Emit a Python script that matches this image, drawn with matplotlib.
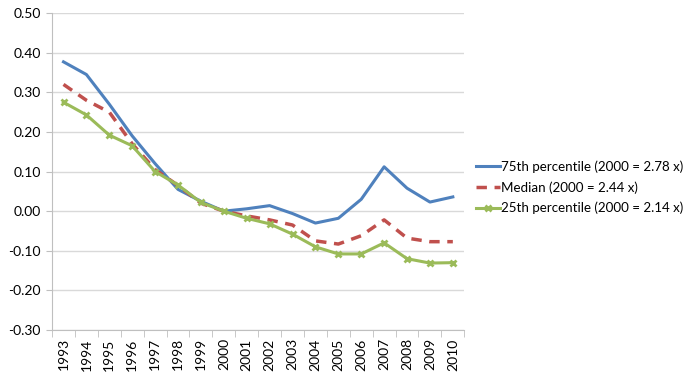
import matplotlib

matplotlib.use("Agg")
import matplotlib.pyplot as plt
import numpy as np

years = [str(y) for y in range(1993, 2011)]
p75 = [0.377, 0.345, 0.270, 0.190, 0.120, 0.055, 0.025, 0.000, 0.006, 0.014,
       -0.006, -0.030, -0.018, 0.030, 0.112, 0.058, 0.023, 0.036]
median = [0.320, 0.280, 0.250, 0.170, 0.105, 0.065, 0.020, 0.000, -0.012, -0.022,
          -0.035, -0.075, -0.083, -0.062, -0.022, -0.068, -0.077, -0.077]
p25 = [0.275, 0.243, 0.192, 0.165, 0.100, 0.066, 0.022, 0.000, -0.018, -0.032,
       -0.058, -0.090, -0.108, -0.108, -0.080, -0.120, -0.131, -0.130]
labels = [
    "75th percentile (2000 = 2.78 x)",
    "Median (2000 = 2.44 x)",
    "25th percentile (2000 = 2.14 x)",
]

plt.rcParams["font.family"] = ["Lato", "DejaVu Sans"]

fig = plt.figure(figsize=(6.94, 3.75), dpi=100)
ax = fig.add_axes([0.075, 0.12, 0.594, 0.845])

x = np.arange(len(years))
ax.plot(x, p75, color="#4F81BD", lw=2.2, label=labels[0])
ax.plot(x, median, color="#C0504D", lw=2.5, dashes=(3, 2.2), label=labels[1])
ax.plot(x, p25, color="#9BBB59", lw=2.2, marker="x", ms=5, mew=2, label=labels[2])

ax.set_xlim(-0.5, len(years) - 0.5)
ax.set_ylim(-0.30, 0.50)
ax.set_yticks(np.arange(-0.30, 0.501, 0.10))
ax.set_yticklabels([f"{v:.2f}" for v in np.arange(-0.30, 0.501, 0.10)], fontsize=10)
ax.set_xticks(x)
ax.set_xticklabels(years, rotation=90, fontsize=10)
ax.set_xticks(np.arange(-0.5, len(years), 1), minor=True)
ax.tick_params(axis="x", which="major", length=0, pad=6)
ax.tick_params(axis="x", which="minor", length=5, color="#BFBFBF")
ax.tick_params(axis="y", length=4, color="#BFBFBF", pad=4)

ax.grid(axis="y", color="#D9D9D9", lw=1)
ax.set_axisbelow(True)
for s in ["top", "right"]:
    ax.spines[s].set_visible(False)
for s in ["left", "bottom"]:
    ax.spines[s].set_color("#BFBFBF")

ax.legend(loc="center left", bbox_to_anchor=(1.0, 0.45), frameon=False,
          fontsize=9.6, handlelength=1.8, handletextpad=0.05, labelspacing=0.6)

fig.savefig("out.png", dpi=100)
